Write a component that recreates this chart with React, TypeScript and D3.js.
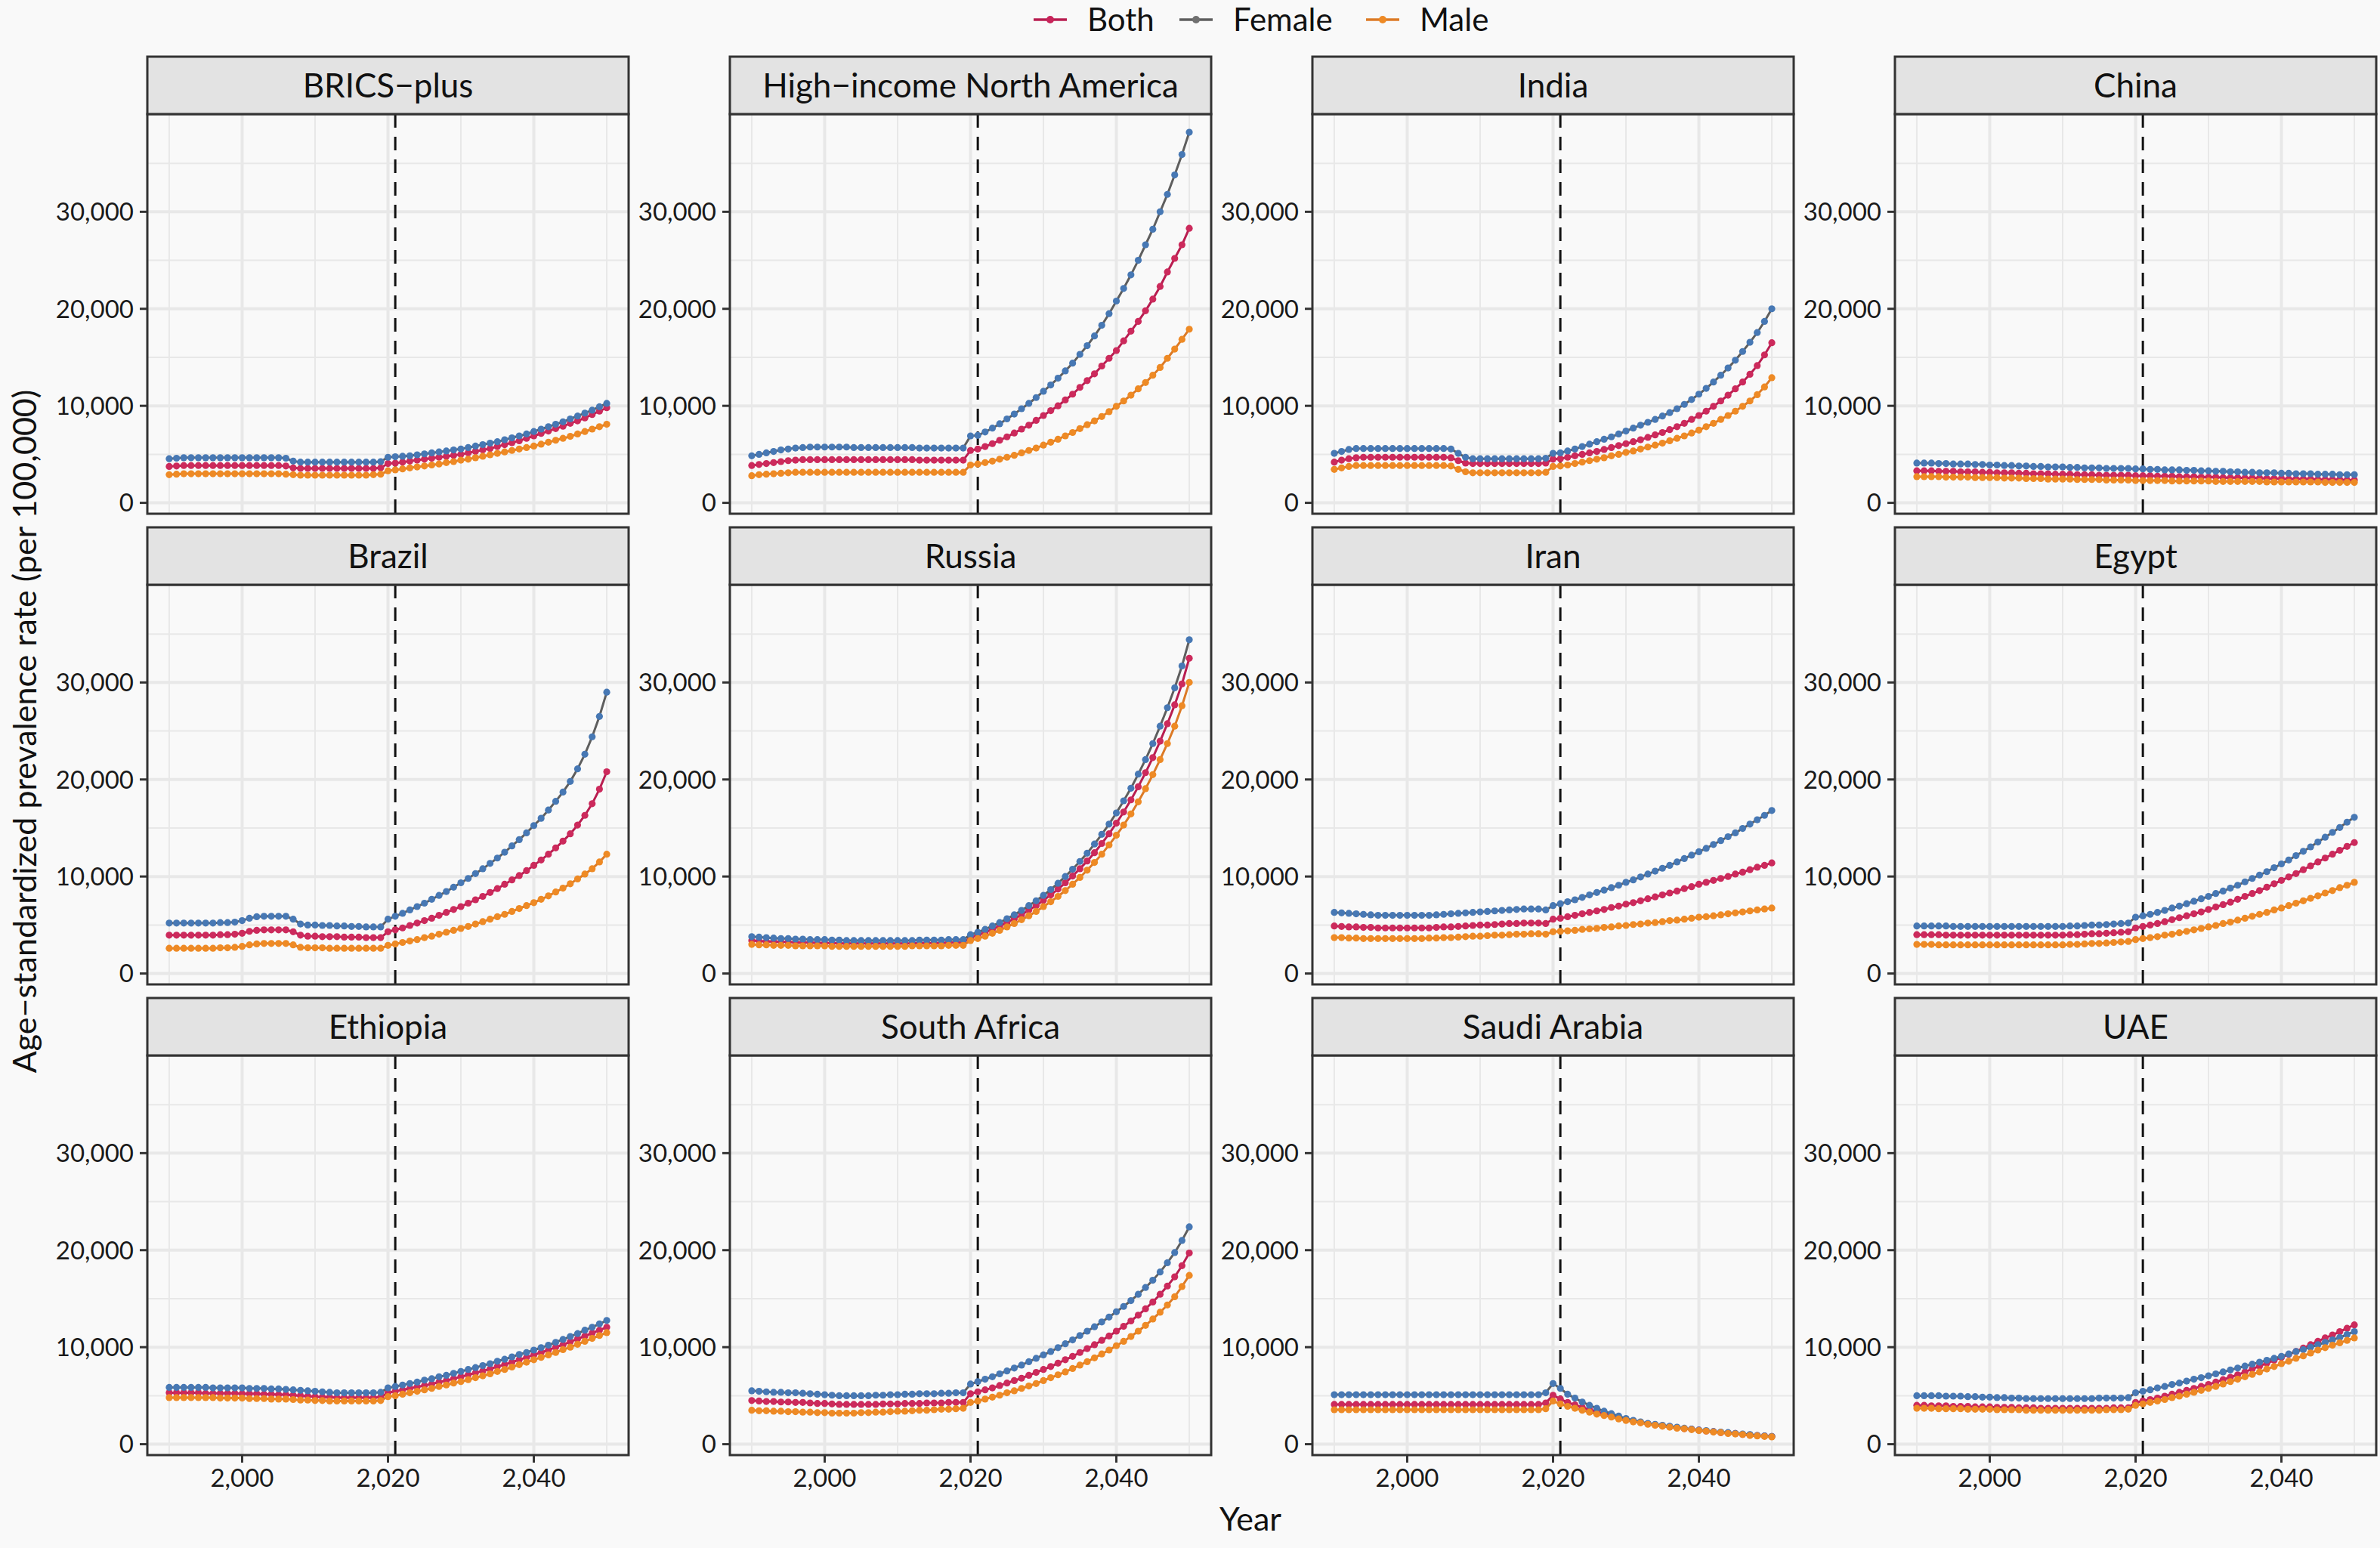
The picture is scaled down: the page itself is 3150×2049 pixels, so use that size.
import React from "react";
import * as d3 from "d3";

// ---------------- data ----------------
const YEARS = d3.range(1990, 2051);
const REGIONS = [
  "BRICS−plus", "High−income North America", "India", "China",
  "Brazil", "Russia", "Iran", "Egypt",
  "Ethiopia", "South Africa", "Saudi Arabia", "UAE",
];
const SEXES = ["Both", "Female", "Male"];
const Y_TICKS = [0, 10000, 20000, 30000];
const Y_MINOR = [5000, 15000, 25000, 35000];
const X_TICKS = [2000, 2020, 2040];
const X_MINOR = [1990, 2010, 2030, 2050];
const FORECAST_START = 2021;

const BRICS_FEMALE = [
4550,4600,4650,4650,4650,4650,4650,4650,4650,4650,
4650,4650,4650,4650,4650,4650,4600,4300,4200,4200,
4200,4200,4200,4200,4200,4200,4200,4200,4200,4250,
4700,4750,4800,4850,4950,5050,5150,5250,5350,5450,
5550,5700,5850,6000,6150,6300,6500,6700,6900,7100,
7350,7600,7850,8100,8350,8650,8950,9250,9550,9900,
10250];
const BRICS_BOTH = [
3750,3800,3850,3850,3850,3850,3850,3850,3850,3850,
3850,3850,3850,3850,3850,3850,3800,3600,3550,3550,
3550,3550,3550,3550,3550,3550,3550,3550,3550,3600,
4050,4100,4200,4300,4400,4500,4600,4700,4800,4900,
5000,5150,5300,5450,5600,5800,6000,6200,6400,6650,
6900,7150,7400,7650,7900,8200,8450,8750,9100,9450,
9800];
const BRICS_MALE = [
2900,2950,3000,3000,3000,3000,3000,3000,3000,3000,
3000,3000,3000,3000,3000,3000,2950,2900,2850,2850,
2850,2850,2850,2850,2850,2850,2850,2850,2900,2950,
3300,3400,3500,3600,3700,3800,3900,4000,4150,4250,
4400,4500,4650,4800,4950,5100,5250,5400,5550,5700,
5850,6050,6250,6450,6650,6850,7100,7350,7600,7850,
8100];

const HINA_FEMALE = [
4850,5000,5150,5300,5450,5550,5650,5700,5750,5750,
5750,5750,5750,5750,5700,5700,5700,5700,5700,5700,
5700,5700,5700,5650,5650,5650,5650,5650,5650,5650,
6900,6950,7300,7700,8150,8650,9150,9700,10250,10850,
11500,12150,12850,13600,14400,15300,16200,17200,18300,19500,
20800,22100,23500,25000,26600,28200,30000,31800,33800,35900,
38200];
const HINA_BOTH = [
3850,3950,4050,4150,4250,4350,4400,4450,4450,4450,
4450,4450,4450,4450,4450,4450,4450,4450,4450,4450,
4450,4450,4450,4400,4400,4400,4400,4400,4400,4400,
5400,5550,5800,6100,6450,6800,7200,7600,8000,8500,
9000,9500,10000,10600,11200,11900,12600,13300,14100,14900,
15700,16700,17700,18700,19800,21000,22300,23800,25200,26600,
28300];
const HINA_MALE = [
2800,2900,2950,3000,3050,3100,3150,3150,3150,3150,
3150,3150,3150,3150,3150,3150,3150,3150,3150,3150,
3150,3150,3150,3150,3150,3150,3150,3150,3150,3150,
3900,4000,4150,4300,4500,4700,4900,5150,5400,5650,
5950,6250,6550,6900,7250,7650,8050,8450,8900,9400,
9950,10500,11100,11750,12400,13150,13950,14900,15850,16850,
17900];

const INDIA_FEMALE = [
5100,5300,5500,5600,5600,5600,5600,5600,5600,5600,
5600,5600,5600,5600,5600,5600,5550,5100,4700,4550,
4550,4550,4550,4550,4550,4550,4550,4550,4550,4600,
5100,5150,5350,5550,5800,6050,6300,6550,6800,7100,
7400,7700,8000,8300,8600,8950,9300,9700,10150,10650,
11200,11800,12450,13150,13900,14700,15600,16550,17550,18700,
20000];
const INDIA_BOTH = [
4200,4400,4550,4650,4700,4700,4700,4700,4700,4700,
4700,4700,4700,4700,4700,4700,4650,4350,4100,4050,
4050,4050,4050,4050,4050,4050,4050,4050,4050,4100,
4500,4550,4700,4850,5000,5150,5300,5500,5700,5900,
6100,6300,6500,6750,7000,7250,7550,7850,8200,8600,
9000,9450,9950,10500,11100,11750,12450,13250,14150,15250,
16500];
const INDIA_MALE = [
3450,3600,3750,3850,3850,3850,3850,3850,3850,3850,
3850,3850,3850,3850,3850,3850,3800,3450,3200,3100,
3100,3100,3100,3100,3100,3100,3100,3100,3100,3150,
3750,3800,3900,4050,4200,4350,4500,4650,4850,5000,
5200,5350,5550,5750,5950,6150,6400,6650,6900,7200,
7500,7850,8200,8600,9000,9450,9950,10500,11150,11950,
12900];

const CHINA_FEMALE = [
4100,4100,4100,4050,4050,4000,4000,4000,3950,3950,
3900,3900,3850,3850,3800,3800,3750,3750,3700,3700,
3700,3650,3650,3600,3600,3600,3550,3550,3550,3550,
3500,3500,3450,3450,3400,3400,3400,3350,3350,3300,
3300,3250,3250,3200,3200,3150,3150,3100,3100,3100,
3050,3050,3000,3000,3000,2950,2950,2950,2900,2900,
2900];
const CHINA_BOTH = [
3300,3300,3300,3250,3250,3250,3200,3200,3200,3150,
3150,3100,3100,3100,3050,3050,3000,3000,3000,2950,
2950,2950,2900,2900,2900,2850,2850,2850,2850,2850,
2800,2800,2800,2750,2750,2750,2700,2700,2700,2650,
2650,2650,2600,2600,2600,2550,2550,2550,2500,2500,
2500,2450,2450,2450,2450,2400,2400,2400,2400,2350,
2350];
const CHINA_MALE = [
2700,2700,2700,2700,2650,2650,2650,2650,2600,2600,
2600,2600,2550,2550,2550,2500,2500,2500,2450,2450,
2450,2450,2400,2400,2400,2400,2350,2350,2350,2350,
2300,2300,2300,2300,2300,2250,2250,2250,2250,2250,
2250,2200,2200,2200,2200,2200,2200,2200,2150,2150,
2150,2150,2150,2150,2150,2150,2100,2100,2100,2100,
2100];

const BRAZIL_FEMALE = [
5200,5200,5200,5200,5200,5200,5200,5250,5250,5300,
5450,5700,5850,5900,5900,5900,5900,5600,5100,5000,
5000,4950,4950,4900,4900,4850,4850,4800,4800,4800,
5600,5900,6200,6550,6900,7250,7650,8050,8450,8900,
9350,9800,10300,10800,11350,11900,12500,13150,13800,14500,
15250,16000,16850,17750,18700,19800,21100,22600,24400,26500,
29000];
const BRAZIL_BOTH = [
3950,3950,3950,3950,3950,3950,3950,4000,4000,4050,
4150,4350,4450,4500,4500,4500,4500,4300,3950,3850,
3850,3800,3800,3800,3750,3750,3750,3700,3700,3700,
4300,4500,4700,4950,5200,5450,5700,6000,6300,6600,
6900,7250,7600,7950,8350,8750,9200,9650,10100,10600,
11150,11700,12300,12950,13650,14400,15300,16300,17500,19000,
20800];
const BRAZIL_MALE = [
2600,2600,2600,2600,2600,2600,2600,2650,2650,2700,
2800,2950,3050,3100,3100,3100,3100,2950,2700,2650,
2650,2650,2600,2600,2600,2600,2600,2600,2600,2600,
2900,3050,3200,3350,3500,3700,3850,4050,4250,4450,
4650,4850,5100,5350,5600,5850,6100,6400,6700,7000,
7300,7650,8000,8400,8800,9250,9750,10250,10800,11500,
12300];

const RUSSIA_FEMALE = [
3800,3750,3700,3650,3600,3600,3550,3550,3500,3500,
3500,3450,3450,3400,3400,3400,3400,3400,3400,3400,
3400,3400,3400,3450,3450,3450,3450,3500,3500,3500,
4000,4250,4550,4900,5250,5650,6050,6500,7000,7500,
8050,8650,9300,10000,10750,11550,12400,13350,14350,15400,
16550,17800,19100,20550,22050,23700,25500,27400,29450,31700,
34400];
const RUSSIA_BOTH = [
3400,3350,3300,3300,3250,3250,3200,3200,3200,3150,
3150,3150,3100,3100,3100,3100,3100,3100,3100,3100,
3100,3100,3100,3150,3150,3150,3150,3200,3200,3200,
3700,3950,4250,4550,4900,5250,5650,6050,6550,7000,
7550,8100,8700,9350,10050,10800,11600,12450,13400,14400,
15500,16650,17900,19250,20700,22250,23950,25750,27700,29850,
32500];
const RUSSIA_MALE = [
3000,2950,2950,2900,2900,2900,2850,2850,2850,2850,
2850,2800,2800,2800,2800,2800,2800,2800,2800,2800,
2800,2800,2850,2850,2850,2850,2850,2900,2900,2900,
3400,3600,3850,4150,4450,4800,5150,5550,5950,6400,
6900,7400,7950,8550,9200,9900,10650,11450,12300,13250,
14250,15300,16450,17700,19050,20500,22050,23700,25500,27600,
30000];

const IRAN_FEMALE = [
6300,6250,6200,6150,6100,6050,6000,6000,6000,6000,
6000,6000,6000,6000,6050,6100,6150,6200,6250,6300,
6350,6400,6450,6500,6550,6600,6650,6650,6650,6550,
7000,7200,7400,7600,7850,8100,8350,8600,8850,9100,
9400,9650,9950,10250,10550,10850,11150,11500,11850,12200,
12550,12900,13300,13700,14100,14500,14950,15400,15850,16300,
16800];
const IRAN_BOTH = [
4900,4850,4800,4800,4750,4750,4700,4700,4700,4700,
4700,4700,4700,4700,4750,4800,4800,4850,4900,4950,
5000,5000,5050,5100,5150,5150,5200,5200,5200,5150,
5600,5700,5850,6000,6150,6300,6450,6600,6800,6950,
7150,7300,7500,7700,7900,8100,8300,8500,8750,8950,
9200,9400,9600,9800,10000,10250,10450,10700,10950,11150,
11400];
const IRAN_MALE = [
3700,3700,3650,3650,3600,3600,3600,3600,3600,3600,
3600,3600,3600,3650,3650,3700,3700,3750,3800,3850,
3850,3900,3950,3950,4000,4050,4050,4100,4100,4050,
4300,4350,4400,4450,4550,4600,4650,4750,4800,4900,
4950,5050,5100,5200,5250,5350,5450,5500,5600,5700,
5800,5850,5950,6050,6150,6250,6350,6450,6550,6650,
6750];

const EGYPT_FEMALE = [
4900,4900,4900,4900,4900,4850,4850,4850,4850,4850,
4850,4850,4850,4850,4850,4850,4850,4850,4850,4850,
4850,4900,4900,4950,5000,5000,5050,5100,5150,5200,
5800,5950,6100,6300,6500,6750,6950,7200,7450,7700,
7950,8250,8500,8800,9100,9450,9800,10150,10500,10900,
11300,11700,12150,12600,13050,13550,14050,14550,15050,15600,
16100];
const EGYPT_BOTH = [
4000,4000,4000,4000,3950,3950,3950,3950,3950,3950,
3950,3950,3950,3950,3950,3950,3950,3950,3950,3950,
3950,4000,4000,4050,4100,4100,4150,4200,4250,4300,
4700,4850,5000,5150,5350,5550,5750,5950,6150,6350,
6600,6850,7100,7350,7650,7950,8250,8550,8900,9250,
9600,9950,10300,10700,11100,11500,11900,12300,12700,13100,
13500];
const EGYPT_MALE = [
3000,3000,3000,2950,2950,2950,2950,2950,2950,2950,
2950,2950,2950,2950,2950,2950,2950,2950,2950,2950,
2950,3000,3000,3050,3100,3100,3150,3200,3250,3300,
3500,3600,3700,3800,3950,4050,4200,4350,4500,4650,
4800,4950,5150,5300,5500,5700,5900,6100,6300,6550,
6750,7000,7250,7500,7750,8000,8300,8550,8850,9100,
9400];

const ETHIOPIA_FEMALE = [
5850,5850,5850,5850,5850,5850,5800,5800,5800,5800,
5800,5750,5750,5750,5700,5700,5650,5600,5550,5500,
5450,5400,5350,5300,5300,5300,5300,5300,5300,5350,
5800,5950,6100,6250,6400,6600,6750,6950,7100,7300,
7500,7700,7900,8100,8300,8550,8750,9000,9250,9450,
9700,9950,10200,10500,10800,11100,11400,11750,12050,12400,
12750];
const ETHIOPIA_BOTH = [
5300,5300,5300,5300,5300,5250,5250,5250,5250,5250,
5200,5200,5200,5150,5150,5100,5100,5050,5000,4950,
4900,4850,4850,4800,4800,4800,4800,4800,4800,4850,
5300,5450,5600,5750,5900,6050,6200,6400,6550,6750,
6950,7150,7350,7550,7750,8000,8200,8450,8700,8950,
9200,9450,9700,10000,10250,10550,10850,11150,11450,11750,
12050];
const ETHIOPIA_MALE = [
4800,4800,4800,4800,4800,4800,4800,4750,4750,4750,
4750,4700,4700,4700,4650,4650,4650,4600,4550,4550,
4500,4500,4450,4450,4450,4450,4450,4450,4450,4500,
4900,5000,5150,5300,5450,5600,5750,5950,6100,6300,
6450,6650,6850,7050,7250,7500,7700,7950,8200,8450,
8700,8950,9200,9450,9750,10000,10300,10600,10900,11200,
11500];

const SOUTH_AFRICA_FEMALE = [
5500,5450,5400,5350,5350,5300,5300,5250,5200,5150,
5100,5050,5000,5000,5000,5000,5000,5050,5050,5100,
5100,5150,5150,5200,5200,5200,5250,5250,5300,5300,
6200,6450,6700,6950,7250,7550,7850,8150,8500,8850,
9200,9550,9950,10350,10750,11200,11650,12100,12600,13100,
13650,14200,14800,15450,16150,16900,17750,18700,19750,21000,
22400];
const SOUTH_AFRICA_BOTH = [
4500,4450,4400,4400,4350,4350,4300,4300,4250,4200,
4200,4150,4100,4100,4100,4100,4100,4100,4150,4150,
4150,4200,4200,4200,4250,4250,4250,4300,4300,4300,
5200,5400,5600,5800,6050,6300,6550,6800,7100,7400,
7700,8000,8350,8700,9050,9450,9850,10250,10700,11150,
11650,12150,12700,13300,13950,14650,15450,16300,17250,18400,
19700];
const SOUTH_AFRICA_MALE = [
3500,3450,3450,3400,3400,3350,3350,3300,3300,3250,
3250,3200,3200,3200,3200,3250,3250,3300,3300,3350,
3400,3400,3450,3500,3500,3550,3600,3600,3650,3700,
4300,4450,4650,4850,5050,5300,5500,5750,6000,6250,
6550,6850,7150,7450,7800,8150,8500,8900,9300,9700,
10150,10600,11100,11650,12250,12900,13600,14350,15200,16250,
17400];

const SAUDI_FEMALE = [
5100,5100,5100,5100,5100,5100,5100,5100,5100,5100,
5100,5100,5100,5100,5100,5100,5100,5100,5100,5100,
5100,5100,5100,5100,5100,5100,5100,5100,5100,5300,
6250,5750,5150,4750,4350,4000,3700,3400,3150,2900,
2650,2450,2300,2150,2050,1950,1850,1750,1650,1550,
1450,1400,1300,1250,1200,1100,1050,1000,900,850,
800];
const SAUDI_BOTH = [
4100,4100,4100,4100,4100,4100,4100,4100,4100,4100,
4100,4100,4100,4100,4100,4100,4100,4100,4100,4100,
4100,4100,4100,4100,4100,4100,4100,4100,4100,4250,
5050,4650,4300,4050,3800,3550,3350,3150,2950,2750,
2550,2400,2250,2100,2000,1900,1800,1700,1600,1550,
1450,1350,1300,1200,1150,1100,1000,950,900,850,
800];
const SAUDI_MALE = [
3550,3550,3550,3550,3550,3550,3550,3550,3550,3550,
3550,3550,3550,3550,3550,3550,3550,3550,3550,3550,
3550,3550,3550,3550,3550,3550,3550,3550,3550,3650,
4450,4150,3900,3700,3500,3300,3100,2950,2800,2600,
2450,2300,2200,2050,1950,1850,1750,1650,1600,1500,
1400,1350,1250,1200,1100,1050,1000,900,850,800,
750];

const UAE_FEMALE = [
5000,5000,5000,5000,4950,4950,4950,4900,4900,4850,
4850,4800,4800,4750,4750,4700,4700,4700,4700,4700,
4700,4700,4700,4700,4700,4750,4750,4750,4750,4800,
5300,5450,5600,5800,5950,6150,6300,6500,6700,6850,
7050,7250,7450,7650,7850,8050,8250,8450,8650,8850,
9050,9300,9550,9750,10000,10250,10500,10750,11000,11300,
11600];
const UAE_BOTH = [
4000,4000,3950,3950,3950,3900,3900,3900,3850,3850,
3850,3800,3800,3800,3750,3750,3750,3700,3700,3700,
3700,3700,3700,3700,3700,3700,3700,3750,3750,3750,
4300,4450,4600,4750,4950,5150,5350,5550,5750,5950,
6150,6400,6650,6900,7150,7450,7750,8050,8350,8650,
8950,9250,9550,9900,10250,10600,10950,11250,11600,11950,
12300];
const UAE_MALE = [
3700,3700,3700,3650,3650,3650,3650,3600,3600,3600,
3600,3550,3550,3550,3550,3500,3500,3500,3500,3500,
3500,3500,3500,3500,3500,3500,3550,3550,3550,3600,
4000,4150,4300,4450,4600,4800,4950,5150,5350,5550,
5750,5950,6200,6450,6700,6950,7200,7450,7750,8000,
8300,8550,8850,9100,9400,9700,9950,10200,10450,10700,
10950];

const SERIES: Record<string, Record<string, number[]>> = {
  "BRICS−plus": { Both: BRICS_BOTH, Female: BRICS_FEMALE, Male: BRICS_MALE },
  "High−income North America": { Both: HINA_BOTH, Female: HINA_FEMALE, Male: HINA_MALE },
  India: { Both: INDIA_BOTH, Female: INDIA_FEMALE, Male: INDIA_MALE },
  China: { Both: CHINA_BOTH, Female: CHINA_FEMALE, Male: CHINA_MALE },
  Brazil: { Both: BRAZIL_BOTH, Female: BRAZIL_FEMALE, Male: BRAZIL_MALE },
  Russia: { Both: RUSSIA_BOTH, Female: RUSSIA_FEMALE, Male: RUSSIA_MALE },
  Iran: { Both: IRAN_BOTH, Female: IRAN_FEMALE, Male: IRAN_MALE },
  Egypt: { Both: EGYPT_BOTH, Female: EGYPT_FEMALE, Male: EGYPT_MALE },
  Ethiopia: { Both: ETHIOPIA_BOTH, Female: ETHIOPIA_FEMALE, Male: ETHIOPIA_MALE },
  "South Africa": { Both: SOUTH_AFRICA_BOTH, Female: SOUTH_AFRICA_FEMALE, Male: SOUTH_AFRICA_MALE },
  "Saudi Arabia": { Both: SAUDI_BOTH, Female: SAUDI_FEMALE, Male: SAUDI_MALE },
  UAE: { Both: UAE_BOTH, Female: UAE_FEMALE, Male: UAE_MALE },
};

// ---------------- style / layout ----------------
const W = 3150;
const H = 2049;
const FONT = "Lato, 'Open Sans', sans-serif";
const BG = "#f9f9f9";
const GRID = "#e8e8e8";
const DARK = "#333333";
const LINE_COLOR: Record<string, string> = { Both: "#b81d50", Female: "#5e5e5e", Male: "#dc7a26" };
const POINT_COLOR: Record<string, string> = { Both: "#cc2a5c", Female: "#4778b4", Male: "#ee8a25" };
const LEGEND_POINT: Record<string, string> = { Both: "#c8245a", Female: "#707070", Male: "#ee8a25" };

const PANEL_X0 = 195;
const COL_PITCH = 771;
const PANEL_W = 637;
const ROW_Y0 = 75;
const ROW_PITCH = 623;
const STRIP_H = 76;
const PLOT_H = 529;

const LEGEND_ITEMS = [
  { key: "Both", x: 1368 },
  { key: "Female", x: 1561 },
  { key: "Male", x: 1808 },
];

export default function App() {
  const allValues = REGIONS.flatMap((r) => SEXES.flatMap((s) => SERIES[r][s]));
  const vMin = d3.min(allValues) as number;
  const vMax = d3.max(allValues) as number;
  const pad = (vMax - vMin) * 0.05;
  const yDomain: [number, number] = [vMin - pad, vMax + pad];
  const xDomain: [number, number] = [1990 - 3, 2050 + 3];
  const fmt = d3.format(",");

  return (
    <svg
      width={W}
      height={H}
      viewBox={`0 0 ${W} ${H}`}
      style={{ position: "absolute", left: 0, top: 0, background: BG }}
      fontFamily={FONT}
    >
      <rect x={0} y={0} width={W} height={H} fill={BG} />

      {LEGEND_ITEMS.map((it) => (
        <g key={it.key}>
          <line x1={it.x} x2={it.x + 44} y1={26} y2={26} stroke={LINE_COLOR[it.key]} strokeWidth={3.5} />
          <circle cx={it.x + 22} cy={26} r={5} fill={LEGEND_POINT[it.key]} />
          <text x={it.x + 71} y={26} dy="0.35em" fontSize={42} fill="#111">
            {it.key}
          </text>
        </g>
      ))}

      {REGIONS.map((region, i) => {
        const col = i % 4;
        const row = Math.floor(i / 4);
        const x0 = PANEL_X0 + col * COL_PITCH;
        const stripTop = ROW_Y0 + row * ROW_PITCH;
        const top = stripTop + STRIP_H;
        const bottom = top + PLOT_H;
        const x = d3.scaleLinear().domain(xDomain).range([x0, x0 + PANEL_W]);
        const y = d3.scaleLinear().domain(yDomain).range([bottom, top]);
        const line = d3
          .line<number>()
          .x((_, j) => x(YEARS[j]))
          .y((v) => y(v));
        return (
          <g key={region}>
            <rect x={x0} y={top} width={PANEL_W} height={PLOT_H} fill={BG} />
            {Y_MINOR.filter((v) => y(v) > top).map((v) => (
              <line key={"ym" + v} x1={x0} x2={x0 + PANEL_W} y1={y(v)} y2={y(v)} stroke={GRID} strokeWidth={2} />
            ))}
            {X_MINOR.map((v) => (
              <line key={"xm" + v} x1={x(v)} x2={x(v)} y1={top} y2={bottom} stroke={GRID} strokeWidth={2} />
            ))}
            {Y_TICKS.map((v) => (
              <line key={"yg" + v} x1={x0} x2={x0 + PANEL_W} y1={y(v)} y2={y(v)} stroke={GRID} strokeWidth={4} />
            ))}
            {X_TICKS.map((v) => (
              <line key={"xg" + v} x1={x(v)} x2={x(v)} y1={top} y2={bottom} stroke={GRID} strokeWidth={4} />
            ))}
            <line
              x1={x(FORECAST_START)}
              x2={x(FORECAST_START)}
              y1={top}
              y2={bottom}
              stroke="#111"
              strokeWidth={3}
              strokeDasharray="18 12"
            />
            {SEXES.map((s) => (
              <g key={s}>
                <path d={line(SERIES[region][s]) || ""} fill="none" stroke={LINE_COLOR[s]} strokeWidth={3} />
                {SERIES[region][s].map((v, j) => (
                  <circle key={j} cx={x(YEARS[j])} cy={y(v)} r={4.6} fill={POINT_COLOR[s]} />
                ))}
              </g>
            ))}
            <rect x={x0} y={top} width={PANEL_W} height={PLOT_H} fill="none" stroke={DARK} strokeWidth={3} />
            <rect x={x0} y={stripTop} width={PANEL_W} height={STRIP_H} fill="#e3e3e3" stroke={DARK} strokeWidth={3} />
            <text
              x={x0 + PANEL_W / 2}
              y={stripTop + STRIP_H / 2}
              dy="0.36em"
              textAnchor="middle"
              fontSize={44}
              fill="#111"
            >
              {region}
            </text>
            {Y_TICKS.map((v) => (
              <g key={"yt" + v}>
                <line x1={x0 - 10} x2={x0} y1={y(v)} y2={y(v)} stroke={DARK} strokeWidth={3} />
                <text x={x0 - 18} y={y(v)} dy="0.36em" textAnchor="end" fontSize={33} fill="#1a1a1a">
                  {fmt(v)}
                </text>
              </g>
            ))}
            {row === 2 &&
              X_TICKS.map((v) => (
                <g key={"xt" + v}>
                  <line x1={x(v)} x2={x(v)} y1={bottom} y2={bottom + 10} stroke={DARK} strokeWidth={3} />
                  <text x={x(v)} y={bottom + 42} textAnchor="middle" fontSize={33} fill="#1a1a1a">
                    {fmt(v)}
                  </text>
                </g>
              ))}
          </g>
        );
      })}

      <text x={1655} y={2026} textAnchor="middle" fontSize={43} fill="#111">
        Year
      </text>
      <text
        transform={`translate(48, 968) rotate(-90)`}
        textAnchor="middle"
        fontSize={43}
        fill="#111"
      >
        Age−standardized prevalence rate (per 100,000)
      </text>
    </svg>
  );
}
